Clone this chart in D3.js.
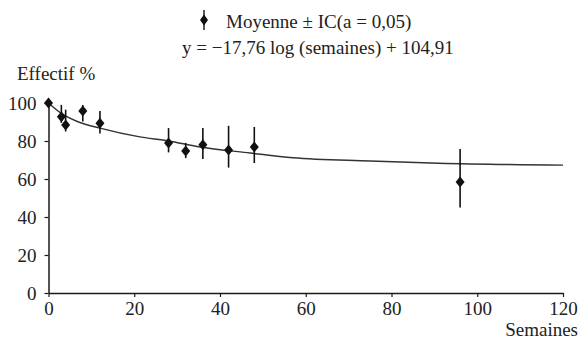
<!DOCTYPE html>
<html>
<head>
<meta charset="utf-8">
<script src="https://cdn.jsdelivr.net/npm/d3@7"></script>
<style>
  body { margin: 0; background: #fff; }
  svg { display: block; }
  svg text { font-family: "Liberation Serif", serif; font-size: 19px; }
</style>
</head>
<body>
<svg width="581" height="341"></svg>
<script>
// mean effectif (%) with 95% CI
const weeks = [0, 3, 4, 8, 12, 28, 32, 36, 42, 48, 96];
const means = [100, 92.8, 88.4, 95.8, 89.3, 79, 74.7, 78, 75.3, 76.8, 58.4];
const ciLow = [100, 89.5, 85, 90.2, 84, 74, 71, 70.5, 66, 68.4, 45];
const ciHigh = [100, 99, 96.5, 99, 95.8, 86.8, 79, 86.8, 88, 87.4, 75.8];

// fitted log curve, as drawn
const fitWeeks = [0, 3, 7, 12, 21, 28, 35, 47, 57, 75, 91, 120];
const fitValues = [100, 94.5, 90, 86.8, 82.3, 80, 77, 73.7, 71.2, 69.5, 68.3, 67.3];

const xTicks = [0, 20, 40, 60, 80, 100, 120];
const yTicks = [0, 20, 40, 60, 80, 100];

const svg = d3.select("svg");

const x = d3.scaleLinear().domain([0, 120]).range([48.5, 563]);
const y = d3.scaleLinear().domain([0, 100]).range([293, 103]);

const ink = "#1a1a1a";

// axes
const xAxis = svg.append("g")
  .attr("transform", `translate(0,${y(0)})`)
  .call(d3.axisBottom(x).tickValues(xTicks).tickSize(4).tickSizeOuter(0).tickPadding(5));
const yAxis = svg.append("g")
  .attr("transform", `translate(${x(0)},0)`)
  .call(d3.axisLeft(y).tickValues(yTicks).tickSize(4).tickSizeOuter(0).tickPadding(8));

[xAxis, yAxis].forEach((g) => {
  g.attr("font-family", null).attr("font-size", null);
  g.select(".domain").attr("stroke", ink).attr("stroke-width", 1.5);
  g.selectAll(".tick line").attr("stroke", ink).attr("stroke-width", 1.2);
  g.selectAll(".tick text").attr("fill", "#222");
});

svg.append("text")
  .attr("x", 17).attr("y", 80)
  .attr("fill", "#222")
  .text("Effectif %");

svg.append("text")
  .attr("x", 578).attr("y", 336)
  .attr("text-anchor", "end")
  .attr("fill", "#222")
  .text("Semaines");

// fitted curve
const line = d3.line()
  .x((d, i) => x(fitWeeks[i]))
  .y((d) => y(d))
  .curve(d3.curveMonotoneX);

svg.append("path")
  .datum(fitValues)
  .attr("fill", "none")
  .attr("stroke", "#333")
  .attr("stroke-width", 1.4)
  .attr("d", line);

const diamond = (cx, cy, w, h) =>
  `M${cx},${cy - h}L${cx + w},${cy}L${cx},${cy + h}L${cx - w},${cy}Z`;

// error bars + points
const pts = svg.append("g")
  .selectAll("g")
  .data(weeks.map((w, i) => ({ w, m: means[i], lo: ciLow[i], hi: ciHigh[i] })))
  .join("g");

pts.filter((d) => d.hi > d.lo)
  .append("line")
  .attr("x1", (d) => x(d.w)).attr("x2", (d) => x(d.w))
  .attr("y1", (d) => y(d.hi)).attr("y2", (d) => y(d.lo))
  .attr("stroke", "#111")
  .attr("stroke-width", 1.6);

pts.append("path")
  .attr("d", (d) => diamond(x(d.w), y(d.m), 4.5, 5.5))
  .attr("fill", "#111");

// legend
const leg = svg.append("g");
leg.append("line")
  .attr("x1", 204).attr("x2", 204)
  .attr("y1", 10).attr("y2", 30)
  .attr("stroke", "#111").attr("stroke-width", 1.4);
leg.append("path")
  .attr("d", diamond(204, 20, 4, 5.5))
  .attr("fill", "#111");
leg.append("text")
  .attr("x", 226).attr("y", 28)
  .attr("fill", "#222")
  .text("Moyenne ± IC(a = 0,05)");
leg.append("text")
  .attr("x", 182).attr("y", 54)
  .attr("fill", "#222")
  .text("y = −17,76 log (semaines) + 104,91");
</script>
</body>
</html>
